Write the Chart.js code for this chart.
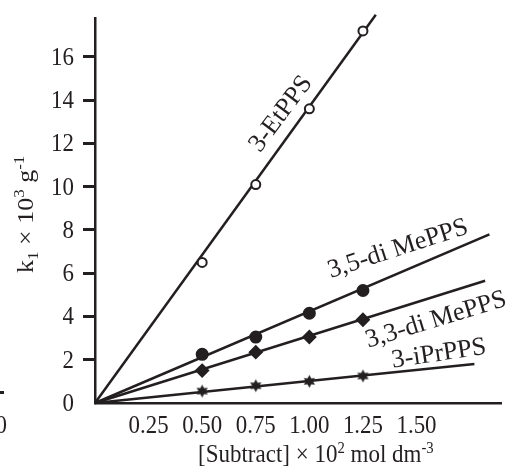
<!DOCTYPE html>
<html>
<head>
<meta charset="utf-8">
<script src="https://cdn.jsdelivr.net/npm/chart.js@4.4.1/dist/chart.umd.min.js"></script>
<style>
  html, body { margin: 0; padding: 0; background: #fff; }
  #c { display: block; }
</style>
</head>
<body>
<canvas id="c" width="509" height="471"></canvas>
<script>
// [Subtract] x 10^2 mol dm^-3
const concentrations = [0.50, 0.75, 1.00, 1.25];
// k1 x 10^3 g^-1 for each substrate
const etPPS = [6.5, 10.1, 13.6, 17.2];
const diMe35PPS = [2.25, 3.05, 4.15, 5.2];
const diMe33PPS = [1.5, 2.35, 3.05, 3.85];
const iPrPPS = [0.55, 0.8, 1.0, 1.25];
// straight lines drawn through the origin, [x, y] of their far ends
const etPPSFitEnd = [1.31, 17.95];
const diMe35PPSFitEnd = [1.84, 7.8];
const diMe33PPSFitEnd = [1.82, 5.65];
const iPrPPSFitEnd = [1.77, 1.8];
const seriesNames = ['3-EtPPS', '3,5-di MePPS', '3,3-di MePPS', '3-iPrPPS'];
const xTickValues = [0.25, 0.50, 0.75, 1.00, 1.25, 1.50];
const yTickValues = [0, 2, 4, 6, 8, 10, 12, 14, 16];

const INK = '#231f20';
const SERIF = '"Liberation Serif", "DejaVu Serif", serif';
// the scanned figure is a little squeezed sideways
const SQUEEZE = 0.88;

function starImage(r) {
  const c = document.createElement('canvas');
  c.width = c.height = 2 * r + 2;
  const g = c.getContext('2d');
  g.translate(r + 1, r + 1);
  g.beginPath();
  for (let i = 0; i < 12; i++) {
    const a = -Math.PI / 2 + i * Math.PI / 6;
    const rr = i % 2 ? r * 0.55 : r;
    g.lineTo(Math.cos(a) * rr, Math.sin(a) * rr);
  }
  g.closePath();
  g.fillStyle = INK;
  g.fill();
  return c;
}

function pts(ys) {
  return concentrations.map((x, i) => ({ x, y: ys[i] }));
}

function fitLine(end) {
  return {
    type: 'scatter',
    data: [{ x: 0, y: 0 }, { x: end[0], y: end[1] }],
    showLine: true,
    borderColor: INK,
    borderWidth: 2.5,
    pointRadius: 0,
    clip: false,
    order: 2,
  };
}

function markers(ys, style, radius, fill) {
  return {
    type: 'scatter',
    data: pts(ys),
    showLine: false,
    pointStyle: style,
    pointRadius: radius,
    pointBackgroundColor: fill,
    pointBorderColor: INK,
    pointBorderWidth: 2,
    clip: false,
    order: 1,
  };
}

// draws a string made of runs, some raised or lowered
function drawRuns(ctx, runs, size) {
  let x = 0;
  runs.forEach((r) => {
    const s = r.sup || r.sub ? Math.round(size * 0.65) : size;
    ctx.font = s + 'px ' + SERIF;
    const dy = r.sup ? -size * 0.38 : r.sub ? size * 0.22 : 0;
    ctx.fillText(r.t, x, dy);
    x += ctx.measureText(r.t).width;
  });
}

function squeezedText(ctx, t, x, y) {
  ctx.save();
  ctx.translate(x, y);
  ctx.scale(SQUEEZE, 1);
  ctx.fillText(t, 0, 0);
  ctx.restore();
}

const textPlugin = {
  id: 'texts',
  afterDraw(chart) {
    const ctx = chart.ctx;
    const xs = chart.scales.x;
    const ys = chart.scales.y;
    ctx.save();
    ctx.fillStyle = INK;

    // tick labels
    ctx.font = '26px ' + SERIF;
    ctx.textBaseline = 'alphabetic';
    ctx.textAlign = 'center';
    xTickValues.forEach((v) => squeezedText(ctx, v.toFixed(2), xs.getPixelForValue(v), 433));
    ctx.textAlign = 'right';
    ctx.textBaseline = 'middle';
    yTickValues.forEach((v) => squeezedText(ctx, String(v), 74, ys.getPixelForValue(v) + 1));

    // series names along their lines
    ctx.textAlign = 'center';
    ctx.font = '26px ' + SERIF;
    const labels = [
      [seriesNames[0], 281, 114, -53],
      [seriesNames[1], 398, 249, -18],
      [seriesNames[2], 436, 320, -17],
      [seriesNames[3], 439, 354, -8.5],
    ];
    labels.forEach(([t, x, y, a]) => {
      ctx.save();
      ctx.translate(x, y);
      ctx.rotate(a * Math.PI / 180);
      ctx.fillText(t, 0, 0);
      ctx.restore();
    });

    ctx.textAlign = 'left';
    ctx.textBaseline = 'alphabetic';
    // x axis title
    ctx.save();
    ctx.translate(198, 462);
    ctx.scale(0.92, 1);
    drawRuns(ctx, [{ t: '[Subtract] \u00d7 10' }, { t: '2', sup: true }, { t: ' mol dm' }, { t: '-3', sup: true }], 25);
    ctx.restore();
    // y axis title
    ctx.save();
    ctx.translate(33, 273);
    ctx.rotate(-Math.PI / 2);
    ctx.scale(1, 0.92);
    drawRuns(ctx, [{ t: 'k' }, { t: '1', sub: true }, { t: ' \u00d7 10' }, { t: '3', sup: true }, { t: ' g' }, { t: '-1', sup: true }], 26);
    ctx.restore();

    // edge of the neighbouring panel
    ctx.font = '26px ' + SERIF;
    ctx.textAlign = 'right';
    ctx.textBaseline = 'alphabetic';
    squeezedText(ctx, '0', 7, 433);
    ctx.fillRect(0, 391, 4, 3);
    ctx.restore();
  },
};

new Chart(document.getElementById('c'), {
  data: {
    datasets: [
      markers(etPPS, 'circle', 4.5, '#ffffff'),
      markers(diMe35PPS, 'circle', 5.5, INK),
      markers(diMe33PPS, 'rectRot', 6, INK),
      markers(iPrPPS, starImage(6.5), 6, INK),
      fitLine(etPPSFitEnd),
      fitLine(diMe35PPSFitEnd),
      fitLine(diMe33PPSFitEnd),
      fitLine(iPrPPSFitEnd),
    ],
  },
  options: {
    responsive: false,
    animation: false,
    layout: { padding: { top: 18, left: 0, right: 0, bottom: 0 } },
    plugins: { legend: { display: false }, tooltip: { enabled: false } },
    scales: {
      x: {
        type: 'linear',
        min: 0,
        max: 1.894,
        afterBuildTicks: (s) => { s.ticks = xTickValues.map((v) => ({ value: v })); },
        afterFit: (s) => { s.height = 68; },
        border: { display: true, color: INK, width: 2.5 },
        grid: { display: false, drawTicks: false },
        // labels are drawn squeezed by the text plugin
        ticks: { display: false },
      },
      y: {
        type: 'linear',
        min: 0,
        max: 17.8,
        afterBuildTicks: (s) => { s.ticks = yTickValues.map((v) => ({ value: v })); },
        afterFit: (s) => { s.width = 95; },
        border: { display: true, color: INK, width: 2.5 },
        grid: {
          display: true,
          drawOnChartArea: false,
          drawTicks: true,
          tickLength: 12,
          tickWidth: 3,
          tickColor: (c) => (c.tick && c.tick.value === 0 ? 'rgba(0,0,0,0)' : INK),
        },
        ticks: { display: false },
      },
    },
  },
  plugins: [textPlugin],
});
</script>
</body>
</html>
